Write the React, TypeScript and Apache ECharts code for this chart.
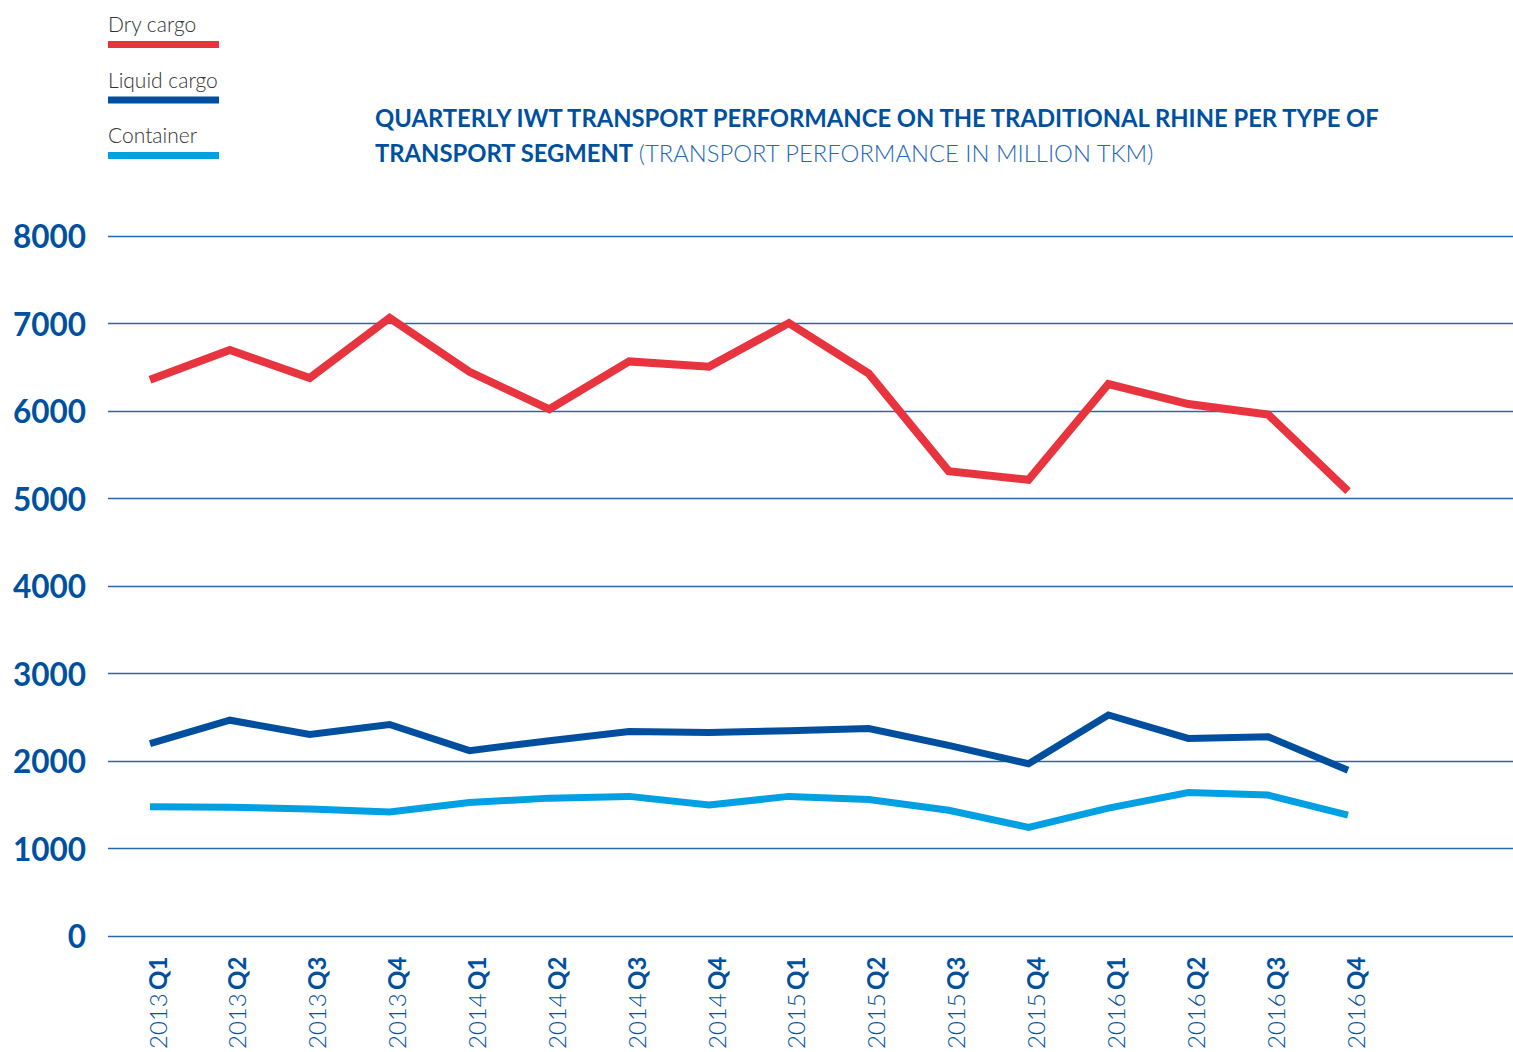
import React, { useEffect, useRef } from "react";
import * as echarts from "echarts";

const categories = [
  "2013 Q1", "2013 Q2", "2013 Q3", "2013 Q4",
  "2014 Q1", "2014 Q2", "2014 Q3", "2014 Q4",
  "2015 Q1", "2015 Q2", "2015 Q3", "2015 Q4",
  "2016 Q1", "2016 Q2", "2016 Q3", "2016 Q4",
];

const dryCargo = [6350, 6690, 6370, 7060, 6440, 6010, 6560, 6500, 7000, 6420, 5300, 5200, 6300, 6070, 5950, 5070];
const liquidCargo = [2170, 2440, 2275, 2390, 2090, 2205, 2310, 2300, 2320, 2345, 2150, 1940, 2500, 2230, 2250, 1865];
const container = [1447, 1440, 1420, 1385, 1495, 1545, 1565, 1465, 1565, 1530, 1405, 1210, 1430, 1610, 1580, 1350];

const yTicks = { min: 0, max: 8000, interval: 1000 };

const seriesNames = ["Dry cargo", "Liquid cargo", "Container"];
const colors = ["#e8343f", "#004f9f", "#00a0e3"];

const BLUE = "#0050a0";
const FONT = "Lato, 'Open Sans', sans-serif";

export default function App() {
  const ref = useRef<HTMLDivElement>(null);

  useEffect(() => {
    if (!ref.current) return;
    const chart = echarts.init(ref.current, undefined, { renderer: "svg" });

    const legendGraphics: any[] = [];
    seriesNames.forEach((name, i) => {
      const top = 12 + i * 55.5;
      legendGraphics.push({
        type: "text",
        left: 108,
        top: top + 1,
        style: { text: name, fill: "#333333", font: `300 21px ${FONT}` },
      });
      legendGraphics.push({
        type: "rect",
        shape: { x: 108, y: top + 29, width: 111, height: 7 },
        style: { fill: colors[i] },
      });
    });

    const data = [dryCargo, liquidCargo, container];

    chart.setOption({
      animation: false,
      backgroundColor: "#ffffff",
      title: {
        left: 370,
        top: 95,
        text:
          "{b|QUARTERLY IWT TRANSPORT PERFORMANCE ON THE TRADITIONAL RHINE PER TYPE OF}\n{b|TRANSPORT SEGMENT} {l|(TRANSPORT PERFORMANCE IN MILLION TKM)}",
        textStyle: {
          rich: {
            b: { fontFamily: FONT, fontWeight: 700, fontSize: 23.8, color: BLUE, lineHeight: 35 },
            l: { fontFamily: FONT, fontWeight: 300, fontSize: 23.8, color: "#2568b6", lineHeight: 35 },
          },
        },
      },
      graphic: legendGraphics,
      grid: [
        { left: 108, right: 0, top: 236, bottom: 116 },
        { left: 150, width: 1198, top: 236, bottom: 116 },
      ],
      xAxis: [
        { type: "category", gridIndex: 0, data: categories, show: false },
        {
          type: "category",
          gridIndex: 1,
          data: categories,
          boundaryGap: false,
          axisLine: { show: false },
          axisTick: { show: false },
          axisLabel: {
            rotate: 90,
            margin: 24,
            padding: [14, 0, 0, 0],
            formatter: (v: string) => {
              const [y, q] = v.split(" ");
              return `{y|${y}} {q|${q}}`;
            },
            rich: {
              y: { fontFamily: FONT, fontWeight: 300, fontSize: 24, color: BLUE },
              q: { fontFamily: FONT, fontWeight: 700, fontSize: 24, color: BLUE },
            },
          },
        },
      ],
      yAxis: [
        {
          type: "value",
          gridIndex: 0,
          min: yTicks.min,
          max: yTicks.max,
          interval: yTicks.interval,
          axisLine: { show: false },
          axisTick: { show: false },
          splitLine: { lineStyle: { color: "#2a66ad", width: 1.3 } },
          axisLabel: {
            margin: 22,
            fontFamily: FONT,
            fontWeight: 700,
            fontSize: 31.5,
            color: BLUE,
            formatter: (v: number) => String(v),
          },
        },
        {
          type: "value",
          gridIndex: 1,
          min: yTicks.min,
          max: yTicks.max,
          interval: yTicks.interval,
          show: false,
          splitLine: { show: false },
        },
      ],
      series: seriesNames.map((name, i) => ({
        name,
        type: "line",
        xAxisIndex: 1,
        yAxisIndex: 1,
        data: data[i],
        symbol: "none",
        lineStyle: { color: colors[i], width: i === 0 ? 8 : 7, cap: "butt", join: "miter" },
        z: 3,
      })),
    });

    return () => chart.dispose();
  }, []);

  return (
    <div
      ref={ref}
      style={{ position: "absolute", left: 0, top: 0, width: 1513, height: 1052 }}
    />
  );
}
